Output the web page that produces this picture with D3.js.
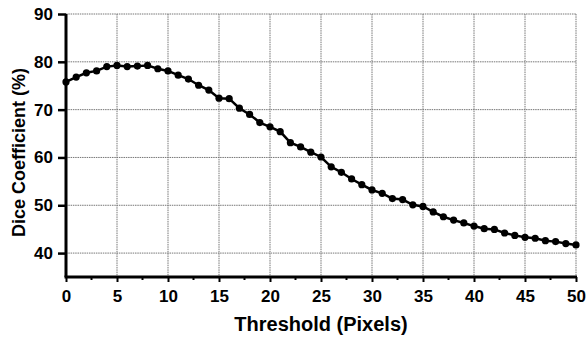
<!DOCTYPE html>
<html>
<head>
<meta charset="utf-8">
<script src="https://cdn.jsdelivr.net/npm/d3@7"></script>
<style>
  body { margin: 0; background: #fff; }
  svg text { font-family: "Liberation Sans", Arial, sans-serif; font-weight: bold; fill: #000; }
</style>
</head>
<body>
<div id="chart"></div>
<script>
// threshold in pixels, 0..50
var thresholds = d3.range(0, 51);
// dice coefficient (%)
var dice = [75.8, 76.8, 77.7, 78.1, 79.0, 79.25, 79.0, 79.1, 79.25, 78.55,
            78.1, 77.2, 76.4, 75.1, 74.1, 72.4, 72.3, 70.3, 69.0, 67.3,
            66.4, 65.4, 63.1, 62.2, 61.1, 60.1, 58.05, 56.9, 55.5, 54.3,
            53.2, 52.5, 51.4, 51.2, 50.1, 49.75, 48.6, 47.6, 46.9, 46.3,
            45.65, 45.1, 44.95, 44.2, 43.7, 43.3, 43.1, 42.6, 42.4, 42.0, 41.7];
var xTicks = [0, 5, 10, 15, 20, 25, 30, 35, 40, 45, 50];
var yTicks = [40, 50, 60, 70, 80, 90];

var W = 586, H = 337;
var margin = {top: 14, right: 10, bottom: 60, left: 66};
var width = 576 - margin.left,
    height = 277 - margin.top;

var svg = d3.select("#chart").append("svg")
    .attr("width", W).attr("height", H)
  .append("g")
    .attr("transform", "translate(" + margin.left + "," + margin.top + ")");

var x = d3.scaleLinear().domain([0, 50]).range([0, width]);
var y = d3.scaleLinear().domain([35, 90]).range([height, 0]);

// grid
svg.append("g").selectAll("line.vg")
    .data(xTicks.slice(1)).enter().append("line")
    .attr("x1", function(d) { return x(d); }).attr("x2", function(d) { return x(d); })
    .attr("y1", 0).attr("y2", height)
    .attr("stroke", "#777").attr("stroke-width", 1)
    .attr("stroke-dasharray", "1.5,0.8");
svg.append("g").selectAll("line.hg")
    .data(yTicks).enter().append("line")
    .attr("x1", 0).attr("x2", width)
    .attr("y1", function(d) { return y(d); }).attr("y2", function(d) { return y(d); })
    .attr("stroke", "#777").attr("stroke-width", 1)
    .attr("stroke-dasharray", "1.5,0.8");

// x axis minor ticks
svg.append("g")
    .attr("transform", "translate(0," + height + ")")
    .selectAll("line").data(d3.range(2.5, 50, 5)).enter().append("line")
    .attr("x1", function(d) { return x(d); }).attr("x2", function(d) { return x(d); })
    .attr("y1", 0).attr("y2", 3).attr("stroke", "#000").attr("stroke-width", 2);

var xAxis = d3.axisBottom(x).tickValues(xTicks).tickSize(5).tickPadding(8)
    .tickFormat(d3.format("d"));
var gx = svg.append("g")
    .attr("transform", "translate(0," + height + ")")
    .call(xAxis);
gx.select(".domain").attr("stroke-width", 3).attr("d", "M-1.5,0H" + (width + 1));
gx.selectAll(".tick line").attr("stroke-width", 2);
gx.selectAll("text").style("font-size", "17px");

var yAxis = d3.axisLeft(y).tickValues(yTicks).tickSize(8).tickPadding(5);
var gy = svg.append("g").call(yAxis);
gy.select(".domain").attr("stroke-width", 3).attr("d", "M0," + height + "V0");
gy.selectAll(".tick line").attr("stroke-width", 2.5);
gy.selectAll("text").style("font-size", "17px");

// line and markers
var pts = thresholds.map(function(t, i) { return {t: t, v: dice[i]}; });
svg.append("path")
    .datum(pts)
    .attr("fill", "none").attr("stroke", "#000").attr("stroke-width", 2.5)
    .attr("d", d3.line().x(function(d) { return x(d.t); }).y(function(d) { return y(d.v); }));
svg.selectAll("circle.pt")
    .data(pts).enter().append("circle")
    .attr("cx", function(d) { return x(d.t); })
    .attr("cy", function(d) { return y(d.v); })
    .attr("r", 3.6).attr("fill", "#000");

// axis titles
svg.append("text")
    .attr("x", width / 2).attr("y", height + 54)
    .attr("text-anchor", "middle")
    .style("font-size", "20px")
    .text("Threshold (Pixels)");
svg.append("text")
    .attr("transform", "translate(-41," + (height / 2 + 7) + ") rotate(-90)")
    .attr("text-anchor", "middle")
    .style("font-size", "18px")
    .text("Dice Coefficient (%)");
</script>
</body>
</html>
